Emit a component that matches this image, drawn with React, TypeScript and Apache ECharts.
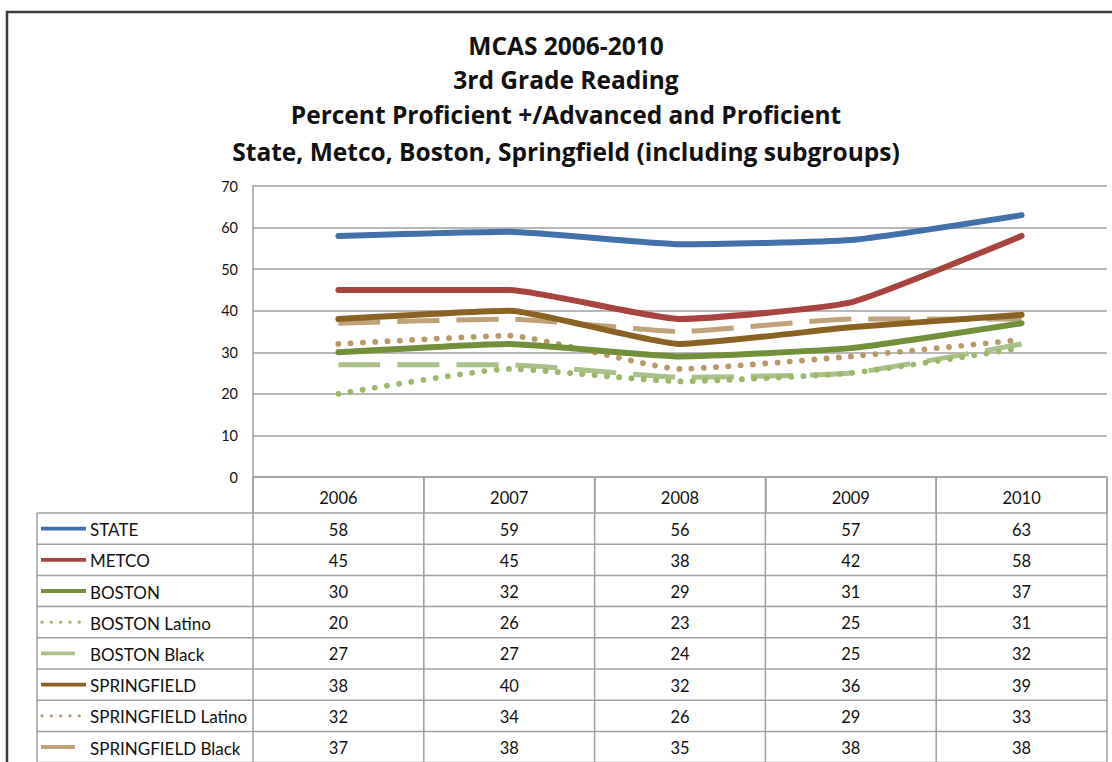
import React, { useEffect, useRef } from "react";
import * as echarts from "echarts";

const titleLines = [
  "MCAS 2006-2010",
  "3rd Grade Reading",
  "Percent Proficient +/Advanced and Proficient",
  "State, Metco, Boston, Springfield (including subgroups)",
];
const years = ["2006", "2007", "2008", "2009", "2010"];
const yTicks = { min: 0, max: 70, interval: 10 };

const seriesNames = [
  "STATE",
  "METCO",
  "BOSTON",
  "BOSTON Latino",
  "BOSTON Black",
  "SPRINGFIELD",
  "SPRINGFIELD Latino",
  "SPRINGFIELD Black",
];
const stateVals = [58, 59, 56, 57, 63];
const metcoVals = [45, 45, 38, 42, 58];
const bostonVals = [30, 32, 29, 31, 37];
const bostonLatinoVals = [20, 26, 23, 25, 31];
const bostonBlackVals = [27, 27, 24, 25, 32];
const springfieldVals = [38, 40, 32, 36, 39];
const springfieldLatinoVals = [32, 34, 26, 29, 33];
const springfieldBlackVals = [37, 38, 35, 38, 38];
const seriesValues = [
  stateVals,
  metcoVals,
  bostonVals,
  bostonLatinoVals,
  bostonBlackVals,
  springfieldVals,
  springfieldLatinoVals,
  springfieldBlackVals,
];

const colors = ["#4270A8", "#A8443F", "#728F3A", "#9DB86A", "#A9C08A", "#8A6224", "#B8996A", "#BFA27A"];
const kinds = ["solid", "solid", "solid", "dot", "dash", "solid", "dot", "dash"];

const FONT = "Lato, 'Open Sans', sans-serif";
const TITLE_FONT = "'Open Sans', sans-serif";
const W = 1112;
const H = 762;
const GRID_LEFT = 253;
const GRID_RIGHT_X = 1107;
const GRID_TOP = 186;
const GRID_BOTTOM_Y = 477;
const HEADER_BOTTOM = 513;
const ROW_H = 31.2;
const TABLE_LEFT = 37;
const LINE_COLOR = "#A0A0A0";

function seriesLineStyle(i: number) {
  const k = kinds[i];
  if (k === "dot") return { color: colors[i], width: 5.8, type: [0.1, 12.2], cap: "round" };
  if (k === "dash") return { color: colors[i], width: 5, type: [42, 17], cap: "butt" };
  return { color: colors[i], width: 6, type: "solid", cap: "round", join: "round" };
}

export default function App() {
  const ref = useRef<HTMLDivElement>(null);
  useEffect(() => {
    if (!ref.current) return;
    const chart = echarts.init(ref.current, null, { renderer: "svg", width: W, height: H });

    const colW = (GRID_RIGHT_X - GRID_LEFT) / years.length;
    const graphics: any[] = [];
    // outer frame
    graphics.push({
      type: "rect",
      shape: { x: 7, y: 12, width: 1200, height: 900 },
      style: { fill: "none", stroke: "#3A3A3A", lineWidth: 2.5 },
      silent: true,
    });
    const titleYs = [45, 79, 114, 151];
    titleLines.forEach((t, i) => {
      graphics.push({
        type: "text",
        x: 566,
        y: titleYs[i],
        style: {
          text: t,
          fontFamily: TITLE_FONT,
          fontWeight: "bold",
          fontSize: 24.5,
          fill: "#111",
          align: "center",
          verticalAlign: "middle",
        },
      });
    });
    // table horizontal lines
    const nRows = seriesNames.length;
    for (let r = 0; r <= nRows; r++) {
      const y = HEADER_BOTTOM + r * ROW_H;
      graphics.push({
        type: "line",
        shape: { x1: TABLE_LEFT, y1: y, x2: GRID_RIGHT_X, y2: y },
        style: { stroke: LINE_COLOR, lineWidth: 1.5 },
        silent: true,
      });
    }
    // table vertical lines
    graphics.push({
      type: "line",
      shape: { x1: TABLE_LEFT, y1: HEADER_BOTTOM, x2: TABLE_LEFT, y2: H + 5 },
      style: { stroke: LINE_COLOR, lineWidth: 1.5 },
      silent: true,
    });
    for (let c = 0; c <= years.length; c++) {
      const x = GRID_LEFT + c * colW;
      graphics.push({
        type: "line",
        shape: { x1: x, y1: GRID_BOTTOM_Y, x2: x, y2: H + 5 },
        style: { stroke: LINE_COLOR, lineWidth: 1.5 },
        silent: true,
      });
    }
    // rows
    seriesNames.forEach((name, r) => {
      const cy = HEADER_BOTTOM + r * ROW_H + ROW_H / 2;
      const k = kinds[r];
      const sample: any = {
        type: "line",
        shape: { x1: k === "dot" ? 42 : 41, y1: cy, x2: k === "dash" ? 75 : k === "dot" ? 80 : 86, y2: cy },
        style: {
          stroke: colors[r],
          lineWidth: k === "dot" ? 3.2 : 3.8,
          lineCap: k === "dot" ? "round" : "butt",
          lineDash: k === "dot" ? [0.1, 9.2] : null,
        },
        silent: true,
      };
      graphics.push(sample);
      graphics.push({
        type: "text",
        x: 90,
        y: cy + 1,
        style: { text: name, fontFamily: FONT, fontSize: 17, fill: "#111", align: "left", verticalAlign: "middle" },
      });
      seriesValues[r].forEach((v, c) => {
        graphics.push({
          type: "text",
          x: GRID_LEFT + c * colW + colW / 2,
          y: cy + 1,
          style: {
            text: String(v),
            fontFamily: FONT,
            fontSize: 16.5,
            fill: "#111",
            align: "center",
            verticalAlign: "middle",
          },
        });
      });
    });

    chart.setOption({
      animation: false,
      backgroundColor: "#ffffff",
      grid: {
        left: GRID_LEFT,
        right: W - GRID_RIGHT_X,
        top: GRID_TOP,
        bottom: H - GRID_BOTTOM_Y,
        containLabel: false,
      },
      xAxis: {
        type: "category",
        data: years,
        boundaryGap: true,
        axisLine: { show: true, lineStyle: { color: LINE_COLOR, width: 1.5 } },
        axisTick: { show: true, length: 36, lineStyle: { color: LINE_COLOR, width: 1.5 } },
        axisLabel: { fontFamily: FONT, fontSize: 16.5, color: "#111", margin: 12 },
        splitLine: { show: false },
      },
      yAxis: {
        type: "value",
        min: yTicks.min,
        max: yTicks.max,
        interval: yTicks.interval,
        axisLine: { show: true, lineStyle: { color: LINE_COLOR, width: 1.5 } },
        axisTick: { show: false },
        axisLabel: { fontFamily: FONT, fontSize: 14.5, color: "#111", margin: 15 },
        splitLine: { show: true, lineStyle: { color: LINE_COLOR, width: 1.5 } },
      },
      series: seriesNames.map((name, i) => ({
        name,
        type: "line",
        data: seriesValues[i],
        symbol: "none",
        smooth: 0.15,
        z: 20 - i,
        lineStyle: seriesLineStyle(i),
        itemStyle: { color: colors[i] },
      })),
      graphic: graphics,
    });
    return () => chart.dispose();
  }, []);
  return <div ref={ref} style={{ position: "fixed", left: 0, top: 0, width: W, height: H, background: "#fff" }} />;
}
